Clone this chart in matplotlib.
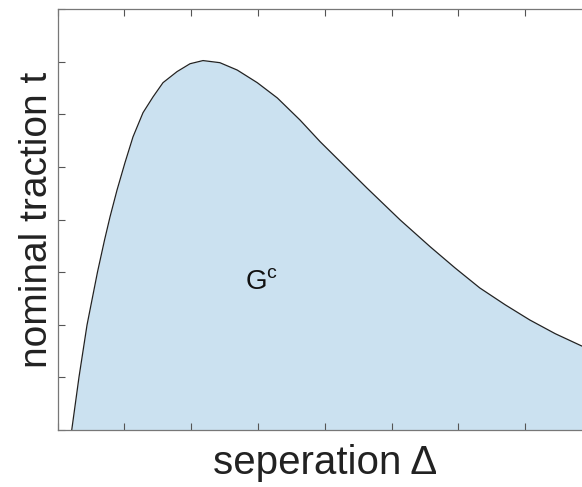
import matplotlib
matplotlib.use("Agg")
import matplotlib.pyplot as plt

plt.rcParams['font.family'] = ['Liberation Sans', 'DejaVu Sans']
plt.rcParams['mathtext.fontset'] = 'custom'
plt.rcParams['mathtext.rm'] = 'Liberation Sans'

separation = [0.213, 0.322, 0.442, 0.599, 0.704, 0.786, 0.891, 1.010, 1.130, 1.280,
              1.430, 1.579, 1.789, 1.984, 2.178, 2.43, 2.69, 2.99, 3.29, 3.63,
              3.93, 4.63, 5.13, 5.58, 5.95, 6.32, 6.70, 7.07, 7.45, 7.84, 8.0]
traction = [0.0, 1.008, 1.996, 3.004, 3.61, 4.05, 4.56, 5.08, 5.57, 6.03,
            6.33, 6.60, 6.81, 6.96, 7.02, 6.98, 6.84, 6.60, 6.31, 5.89,
            5.48, 4.60, 3.99, 3.48, 3.08, 2.70, 2.38, 2.09, 1.83, 1.60, 1.52]

x_ticks = list(range(0, 9))
y_ticks = list(range(0, 9))

fig = plt.figure(figsize=(5.82, 4.87), dpi=100)
ax = fig.add_axes([57.5 / 582, 1 - 430 / 487, (592 - 57.5) / 582, (430 - 9) / 487])

ax.fill_between(separation, traction, 0, color='#cbe1f0', linewidth=0)
ax.plot(separation, traction, color='#222222', linewidth=0.9)

ax.text(2.81, 2.66, r'G$^{\mathrm{c}}$', fontsize=20, color='#111111')

ax.set_xlim(0, 8)
ax.set_ylim(0, 8)
ax.set_xticks(x_ticks)
ax.set_yticks(y_ticks)
ax.tick_params(direction='in', length=5, width=0.8, color='#555555',
               labelbottom=False, labelleft=False, top=True, right=True)
for side in ax.spines.values():
    side.set_color('#777777')
    side.set_linewidth(0.9)

ax.set_xlabel('seperation \u0394', fontsize=29, color='#222222', labelpad=10)
ax.set_ylabel('nominal traction t', fontsize=28, color='#222222', labelpad=2)

fig.savefig('out.png', dpi=100)
